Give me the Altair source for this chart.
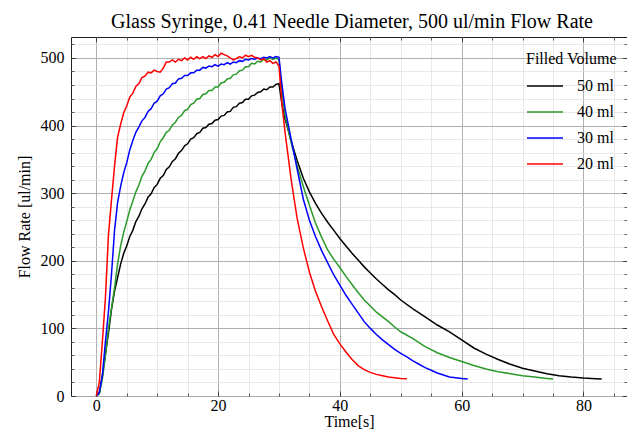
import altair as alt
import pandas as pd

series_labels = ["50 ml", "40 ml", "30 ml", "20 ml"]
series_colors = ["#000000", "#2a9a2a", "#0000ff", "#ff0000"]

# rise phase sampled every 0.5 s from 0 to 30 s
rise_t = [i * 0.5 for i in range(61)]

rise_50 = [0, 5, 30, 62, 93, 128, 155, 175, 195, 211,
           222, 236, 245, 258, 266, 277, 284, 294, 299, 308,
           313, 322, 326, 335, 339, 347, 351, 359, 363, 370,
           373, 380, 382, 388, 390, 396, 397, 402, 403, 408,
           409, 414, 415, 420, 421, 427, 428, 433, 434, 439,
           439, 444, 445, 449, 450, 454, 453, 457, 457, 461,
           462]
rise_40 = [0, 3, 25, 60, 100, 130, 160, 195, 222, 242,
           258, 275, 288, 302, 312, 325, 333, 344, 350, 360,
           366, 376, 382, 390, 393, 401, 405, 412, 415, 422,
           424, 431, 433, 439, 440, 446, 447, 452, 452, 457,
           457, 463, 464, 469, 470, 475, 476, 481, 482, 487,
           487, 492, 491, 495, 494, 498, 497, 500, 498, 500,
           497]
rise_30 = [0, 5, 30, 80, 125, 180, 245, 286, 310, 330,
           345, 364, 378, 390, 398, 407, 412, 421, 425, 433,
           436, 444, 447, 454, 456, 462, 463, 469, 470, 474,
           474, 478, 478, 482, 482, 486, 485, 488, 487, 490,
           488, 491, 490, 493, 491, 494, 493, 496, 495, 498,
           497, 499, 498, 500, 499, 501, 500, 502, 500, 502,
           501]
rise_20 = [0, 20, 80, 145, 238, 290, 340, 383, 402, 419,
           429, 442, 448, 458, 462, 471, 473, 479, 478, 482,
           480, 479, 485, 494, 494, 497, 494, 498, 496, 500,
           497, 501, 498, 502, 499, 502, 499, 503, 501, 505,
           502, 507, 505, 503, 500, 497, 499, 502, 500, 504,
           502, 504, 501, 500, 497, 499, 494, 496, 492, 494,
           488]

fall_t_50 = [30.5] + list(range(31, 51)) + list(range(52, 83, 2)) + [83]
fall_50 = [431, 410, 377, 348, 322, 302, 285, 270, 257, 245, 233, 222, 211, 201,
           191, 182, 173, 165, 157, 150, 142,
           129, 117, 105, 95, 83, 71, 62, 54, 47, 41, 37, 33, 30, 28, 26.5, 25.5, 25]
fall_t_40 = [30.5] + list(range(31, 51)) + list(range(52, 75, 2)) + [75]
fall_40 = [450, 415, 375, 340, 310, 282, 256, 235, 216, 202, 190, 177, 165, 153,
           142, 133, 124, 117, 110, 102, 95,
           85, 73, 64, 57, 51, 45, 40, 36, 33, 30, 28, 26, 25]
fall_t_30 = [30.5] + list(range(31, 62))
fall_30 = [460, 425, 380, 335, 291, 260, 236, 215, 197, 179, 164, 149, 136, 123,
           110, 100, 91, 83, 76, 69, 63, 58, 52, 47, 42, 38, 34, 31, 28, 27, 26, 25]
fall_t_20 = [30.5] + list(range(31, 52))
fall_20 = [431, 390, 320, 262, 219, 183, 155, 132, 111, 91, 77, 65, 54, 45, 39,
           35, 32, 30, 28, 27, 26, 25.5]

x_major = [0, 20, 40, 60, 80]
x_minor = list(range(0, 90, 5))
y_major = [0, 100, 200, 300, 400, 500]
y_minor = list(range(0, 531, 20))
x_domain = [-4.15, 87.15]
y_domain = [0, 531]

rows = []
for lab, rv, ft, fv in [
    ("50 ml", rise_50, fall_t_50, fall_50),
    ("40 ml", rise_40, fall_t_40, fall_40),
    ("30 ml", rise_30, fall_t_30, fall_30),
    ("20 ml", rise_20, fall_t_20, fall_20),
]:
    for t, v in zip(rise_t + ft, rv + fv):
        rows.append({"time": t, "flow": v, "volume": lab})
df = pd.DataFrame(rows)

FONT = "Liberation Serif"
xs = alt.Scale(domain=x_domain, nice=False, zero=False)
ys = alt.Scale(domain=y_domain, nice=False, zero=False)


def guide_layer(xaxis, yaxis):
    return alt.Chart(df).mark_line(opacity=0).encode(
        x=alt.X("time:Q", scale=xs, axis=xaxis),
        y=alt.Y("flow:Q", scale=ys, axis=yaxis),
        detail="volume:N",
    )


minor_ax = dict(labels=False, domain=False, title=None, tickColor="#333333",
                tickWidth=0.8)
major_ax = dict(domain=False, tickColor="#333333", tickWidth=0.8,
                labelFont=FONT, labelFontSize=16, labelColor="black",
                titleFont=FONT, titleFontSize=16, titleColor="black",
                titleFontWeight="normal")

minor_layer = guide_layer(
    alt.Axis(orient="bottom", values=x_minor, tickSize=3, offset=-3, grid=True,
             gridColor="#dedede", gridWidth=0.7, **minor_ax),
    alt.Axis(orient="left", values=y_minor, tickSize=3, offset=-3, grid=True,
             gridColor="#dedede", gridWidth=0.7, **minor_ax),
)
minor_top = guide_layer(
    alt.Axis(orient="top", values=x_minor, tickSize=3, offset=-3, grid=False,
             **minor_ax),
    alt.Axis(orient="right", values=y_minor, tickSize=3, offset=-3, grid=False,
             **minor_ax),
)
major_top = guide_layer(
    alt.Axis(orient="top", values=x_major, tickSize=5, offset=-5, grid=False,
             labels=False, title=None, domain=False, tickColor="#333333",
             tickWidth=0.8),
    alt.Axis(orient="right", values=y_major, tickSize=5, offset=-5, grid=False,
             labels=False, title=None, domain=False, tickColor="#333333",
             tickWidth=0.8),
)

lines = alt.Chart(df).mark_line(strokeWidth=1.5).encode(
    x=alt.X("time:Q", scale=xs,
            axis=alt.Axis(orient="bottom", values=x_major, tickSize=5, offset=-5,
                          grid=True, gridColor="#a8a8a8", gridWidth=0.9,
                          labelPadding=1, titlePadding=0, title="Time[s]",
                          **major_ax)),
    y=alt.Y("flow:Q", scale=ys,
            axis=alt.Axis(orient="left", values=y_major, tickSize=5, offset=-5,
                          grid=True, gridColor="#a8a8a8", gridWidth=0.9,
                          labelPadding=7, titlePadding=8,
                          title="Flow Rate [ul/min]", **major_ax)),
    color=alt.Color(
        "volume:N",
        scale=alt.Scale(domain=series_labels, range=series_colors),
        sort=series_labels,
        legend=alt.Legend(
            title="Filled Volume", orient="none", legendX=455, legendY=14,
            titleFont=FONT, titleFontSize=16, titleFontWeight="normal",
            titleColor="black", titlePadding=3,
            labelFont=FONT, labelFontSize=16, labelColor="black",
            labelOffset=19, symbolType="M-1,0H1.4", symbolSize=900,
            symbolStrokeWidth=1.5, rowPadding=2, padding=0,
        ),
    ),
    order=alt.Order("time:Q"),
)

chart = alt.layer(minor_layer, minor_top, major_top, lines).resolve_axis(
    x="independent", y="independent"
).properties(
    width=556,
    height=359,
    padding={"left": 63, "top": 29, "right": 0, "bottom": 33},
    autosize=alt.AutoSizeParams(type="none"),
    title=alt.TitleParams(
        "Glass Syringe, 0.41 Needle Diameter, 500 ul/min Flow Rate",
        font=FONT, fontSize=20, fontWeight="normal", color="black", offset=5,
        anchor="middle", dx=3,
    ),
).configure_view(stroke="#222222", strokeWidth=1)

chart.save("out.html", embed_options={"renderer": "svg", "actions": False})
